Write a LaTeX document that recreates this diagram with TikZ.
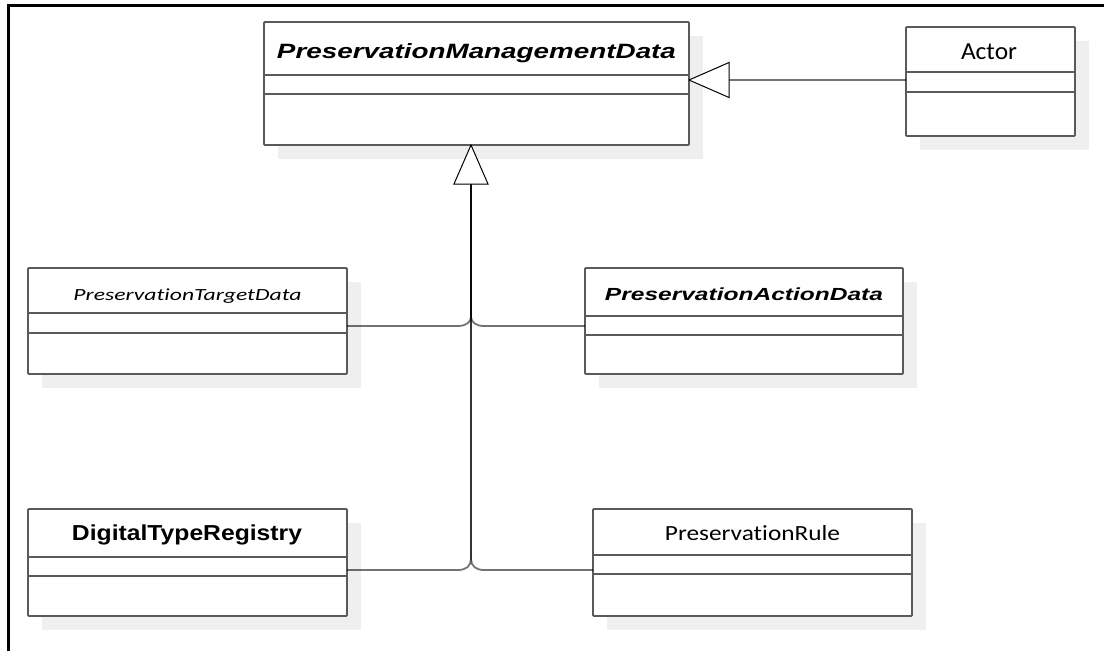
\documentclass[tikz,border=0pt]{standalone}
\usepackage{fontspec}
\usepackage{graphicx}
\newfontfamily\lsans{Liberation Sans}
\newfontfamily\carl[Ligatures=NoCommon]{Carlito}
\definecolor{boxc}{HTML}{5A5A5A}
\definecolor{shadowc}{HTML}{EFEFEF}
\tikzset{
  classbox/.style={draw=boxc, line width=1.8pt, fill=white, rounded corners=1pt, inner sep=0pt, outer sep=0pt, anchor=north west},
  shadowbox/.style={fill=shadowc, draw=none},
  divider/.style={draw=boxc, line width=1.8pt},
  conn/.style={draw=black, line width=1.8pt, draw opacity=0.55},
  gen/.style={draw=black, line width=1pt, fill=white, line join=miter},
  title/.style={anchor=base, inner sep=0pt}
}
\newcommand{\umlbox}[7]{% name x1 y1 x2 y2 d1 d2
  \fill[shadowbox] (#2+14,#3+14) rectangle (#4+14,#5+14);
  \node[classbox, minimum width=#4pt-#2pt, minimum height=#5pt-#3pt] (#1) at (#2,#3) {};
  \draw[divider] (#2,#6) -- (#4,#6);
  \draw[divider] (#2,#7) -- (#4,#7);
}
\begin{document}
\begin{tikzpicture}[x=1pt,y=-1pt]
\useasboundingbox (0,0) rectangle (1104,651);
\fill[white] (0,0) rectangle (1104,651);
% frame
\draw[black, line width=3pt] (8.3,651) -- (8.3,5.8) -- (1104,5.8);

% boxes
\umlbox{pmd}{264}{22}{689}{145}{75}{94}
\umlbox{actor}{906}{27}{1075}{136}{72}{92}
\umlbox{ptd}{28}{268}{347}{374}{313}{333}
\umlbox{pad}{585}{268}{903}{374}{316}{335}
\umlbox{dtr}{28}{509}{347}{616}{557}{576}
\umlbox{pr}{593}{509}{912}{616}{555}{574}

% titles
\node[title] (pmdt) at (476.5,58.3) {\resizebox{399pt}{15pt}{\lsans\bfseries\itshape PreservationManagementData}};
\node[title] (actort) at (989,59) {\resizebox{56pt}{15.7pt}{\carl Actor}};
\node[title] (ptdt) at (187.5,300) {\resizebox{228pt}{11.7pt}{\carl\itshape PreservationTargetData}};
\node[title] (padt) at (744,300) {\resizebox{278pt}{12.7pt}{\lsans\bfseries\itshape PreservationActionData}};
\node[title] (dtrt) at (187,540.7) {\resizebox{230pt}{15.7pt}{\lsans\bfseries DigitalTypeRegistry}};
\node[title] (prt) at (752.5,540.7) {\resizebox{175pt}{15pt}{\carl PreservationRule}};

% generalization targets
\coordinate (gtip) at (471,145);
\coordinate (gbase) at (471,184);
\coordinate (htip) at (689,80);
\coordinate (hbase) at (729,80);

% connectors
\draw[conn] ([yshift=1.5pt]actor.west) -- (hbase);
\draw[conn] ([yshift=-5pt]ptd.east) -- (458,326) .. controls (466,326) and (471,322) .. (471,317) -- (gbase);
\draw[conn] ([yshift=-5pt]pad.west) -- (484,326) .. controls (476,326) and (471,322) .. (471,317) -- (gbase);
\draw[conn] ([yshift=-7.5pt]dtr.east) -- (458,570) .. controls (466,570) and (471,566) .. (471,559) -- (gbase);
\draw[conn] ([yshift=-7.5pt]pr.west) -- (484,570) .. controls (476,570) and (471,566) .. (471,559) -- (gbase);

% triangles
\draw[gen] (gtip) -- (488,184) -- (454,184) -- cycle;
\draw[gen] (htip) -- (729,62.5) -- (729,97.5) -- cycle;
\end{tikzpicture}
\end{document}
